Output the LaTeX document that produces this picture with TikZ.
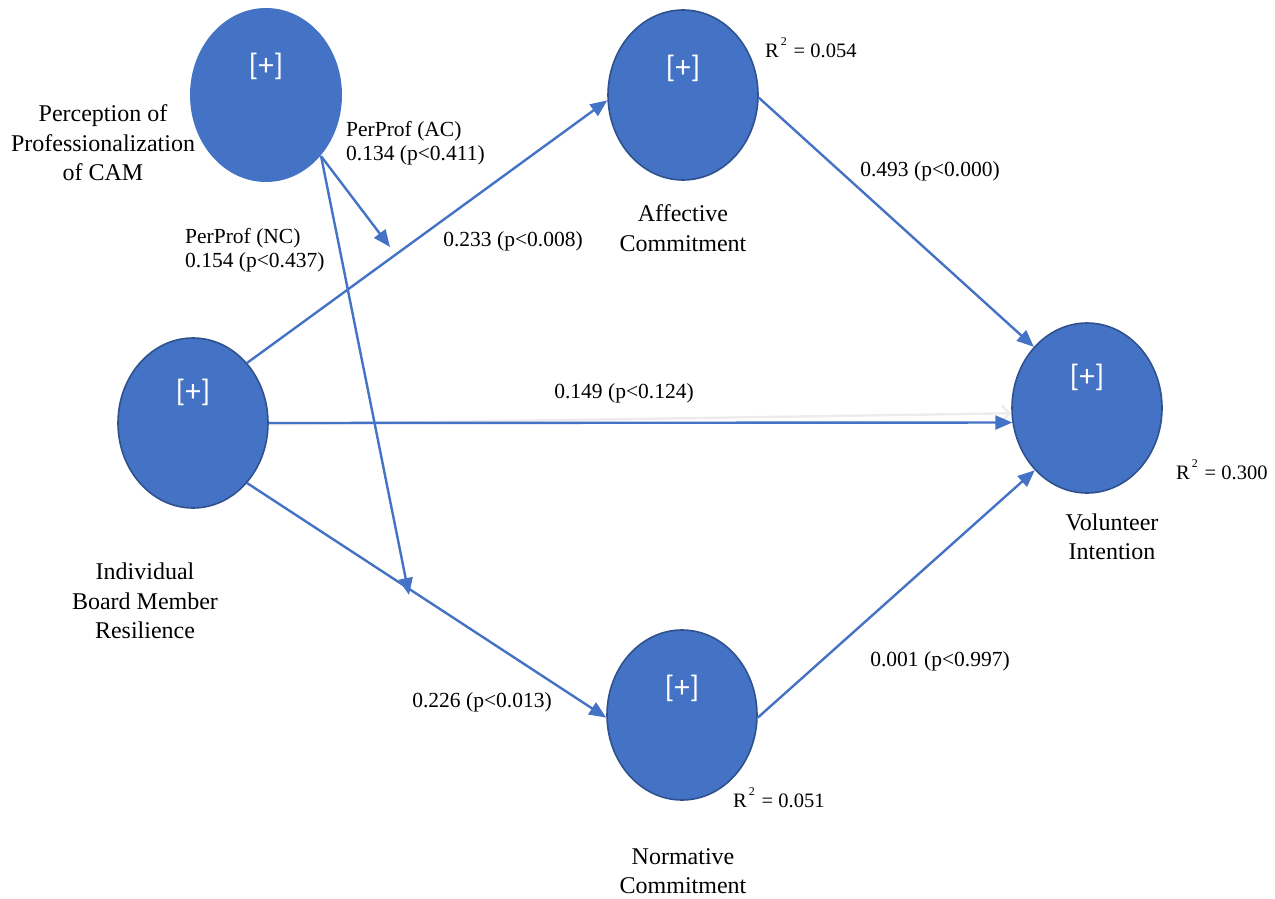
\documentclass[tikz,border=0pt]{standalone}
\usepackage{fontspec}
\setmainfont{Liberation Serif}
\newfontfamily\plusfont{Carlito}
\usetikzlibrary{arrows.meta,shapes.geometric}
\definecolor{nodeblue}{HTML}{4472C4}
\definecolor{nodeedge}{HTML}{2F528F}
\newcommand{\rsq}[1]{R\raisebox{1.3ex}{\fontsize{12}{12}\selectfont\,2}\,\,= #1}
\begin{document}
\begin{tikzpicture}[x=1pt,y=-1pt,
 construct/.style={ellipse, fill=nodeblue, draw=nodeedge, line width=1.6pt, minimum width=150pt, minimum height=170pt, inner sep=0},
 plus/.style={text=white, font=\plusfont\fontsize{31}{31}\selectfont, inner sep=0},
 lbl/.style={font=\fontsize{24}{29.5}\selectfont, align=center, inner sep=0},
 plbl/.style={font=\fontsize{21.5}{24}\selectfont, align=center, inner sep=0},
 lbll/.style={font=\fontsize{21.5}{24.5}\selectfont, align=left, inner sep=0, anchor=west},
 rlbl/.style={font=\fontsize{20.5}{24}\selectfont, inner sep=0, anchor=west},
 conn/.style={draw=nodeblue, line width=2.4pt, -{Triangle[length=17pt,width=14pt]}},
]
\useasboundingbox (0,0) rectangle (1275,899);

% constructs
\node[construct, draw=none, minimum width=152pt, minimum height=174pt] (pp) at (266,95) {};
\node[construct] (ac) at (683,95) {};
\node[construct] (ibmr) at (193,423) {};
\node[construct] (vi) at (1087,408) {};
\node[construct] (nc) at (682,715) {};

\node[plus] (pp-p) at (266,66) {[+]};
\node[plus] (ac-p) at (683,68) {[+]};
\node[plus] (ibmr-p) at (193,392) {[+]};
\node[plus] (vi-p) at (1087,377) {[+]};
\node[plus] (nc-p) at (682,688) {[+]};

% moderation targets
\coordinate (m1) at (390,247);
\coordinate (m2) at (409,595);

% connectors
\draw[conn] (ibmr.48) -- (ac.184);
\draw[conn] (ac.358) -- (vi.131);
\draw[draw=gray!15, line width=2.4pt, -{Straight Barb[length=8pt,width=16pt]}] ([yshift=-1.5pt]ibmr.east) -- (vi.184);
\draw[conn] (ibmr.east) -- (vi.191);
\draw[conn] (ibmr.312) -- (nc.182);
\draw[conn] (nc.358) -- (vi.230);
\draw[conn] (pp.312) -- (m1);
\draw[conn] (pp.312) -- (m2);

% labels
\node[lbl] (pp-l) at (103,143) {Perception of\\Professionalization\\of CAM};
\node[lbl] (ac-l) at (683,228) {Affective\\Commitment};
\node[lbl] (ibmr-l) at (145,601) {Individual\\Board Member\\Resilience};
\node[lbl] (vi-l) at (1112,537) {Volunteer\\Intention};
\node[lbl] (nc-l) at (683,871) {Normative\\Commitment};

\node[lbll] (l-ppac) at (346,143) {PerProf (AC)\\0.134 (p<0.411)};
\node[lbll] (l-ppnc) at (185,250) {PerProf (NC)\\0.154 (p<0.437)};
\node[plbl] (l-ac) at (513,241) {0.233 (p<0.008)};
\node[plbl] (l-acvi) at (930,171) {0.493 (p<0.000)};
\node[plbl] (l-iv) at (624,393) {0.149 (p<0.124)};
\node[plbl] (l-nc) at (482,702) {0.226 (p<0.013)};
\node[plbl] (l-ncvi) at (940,661) {0.001 (p<0.997)};

\node[rlbl] (r-ac) at (765,48) {\rsq{0.054}};
\node[rlbl] (r-vi) at (1176,470) {\rsq{0.300}};
\node[rlbl] (r-nc) at (733,798) {\rsq{0.051}};
\end{tikzpicture}
\end{document}
